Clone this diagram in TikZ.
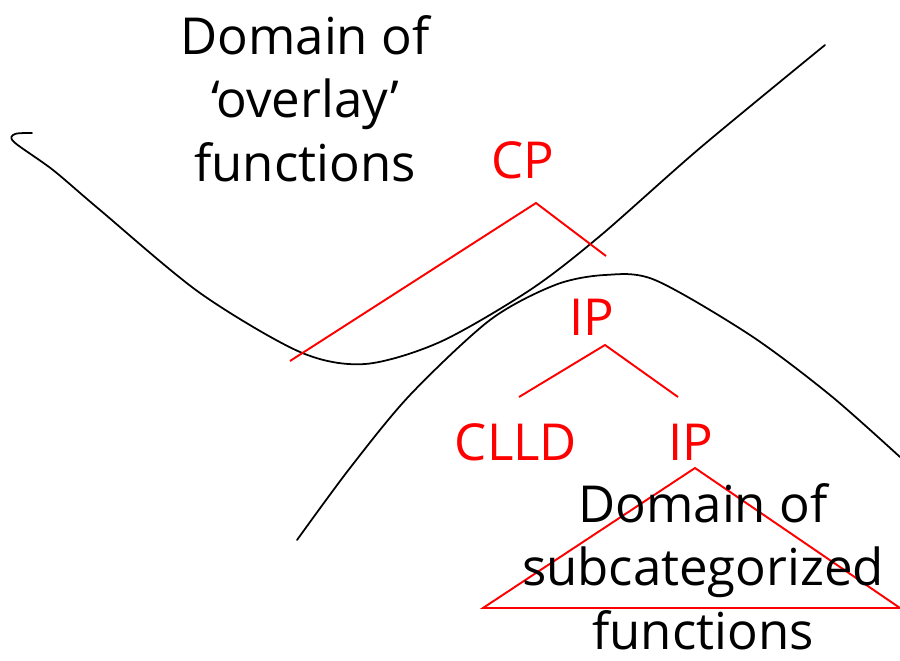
\documentclass[tikz,border=0pt]{standalone}
\usepackage{fontspec}
\setmainfont{Open Sans}
\begin{document}
\begin{tikzpicture}[x=0.02cm,y=-0.02cm,
    lbl/.style={font=\fontsize{29}{36}\selectfont,inner sep=0pt,anchor=base},
    cat/.style={lbl,text=red},
    branch/.style={red,line width=1.1pt},
    bound/.style={black,line width=1pt,line cap=round}]
    \useasboundingbox (0,0) rectangle (900,660);
    % the two domain boundaries
    \draw[bound] plot[smooth,tension=0.5] coordinates {(32,133) (15,134) (14,142) (53,170) (100,210)
        (200,293) (300,352) (365,364) (440,342) (530,290) (600,236) (700,148) (825,45)};
    \draw[bound] plot[smooth,tension=0.5] coordinates {(297,540) (350,468) (410,395) (490,320)
        (555,285) (605,275) (655,280) (750,335) (830,395) (900,457)};
    % tree
    \node[cat] (cp) at (523,178) {CP};
    \node[cat] (ipa) at (592,335) {IP};
    \node[cat] (clld) at (516,460) {CLLD};
    \node[cat] (ipb) at (691,460) {IP};
    \path (536,203) coordinate (cptop) (290,361) coordinate (cpl) (606,256) coordinate (cpr);
    \path (605,345) coordinate (ipatop) (519,397) coordinate (ipal) (678,397) coordinate (ipar);
    \path (695,468) coordinate (ipbtop) (483,608) coordinate (ipbl) (900,608) coordinate (ipbr);
    \draw[branch] (cpl) -- (cptop) -- (cpr);
    \draw[branch] (ipal) -- (ipatop) -- (ipar);
    \draw[branch,line join=miter] (ipbtop) -- (ipbl) -- (ipbr) -- cycle;
    % domain labels (base is the last line)
    \node[lbl,align=center] (overlay) at (305,181) {Domain of\\‘overlay’\\functions};
    \node[lbl,align=center] (subcat) at (703,649) {Domain of\\subcategorized\\functions};
\end{tikzpicture}
\end{document}
